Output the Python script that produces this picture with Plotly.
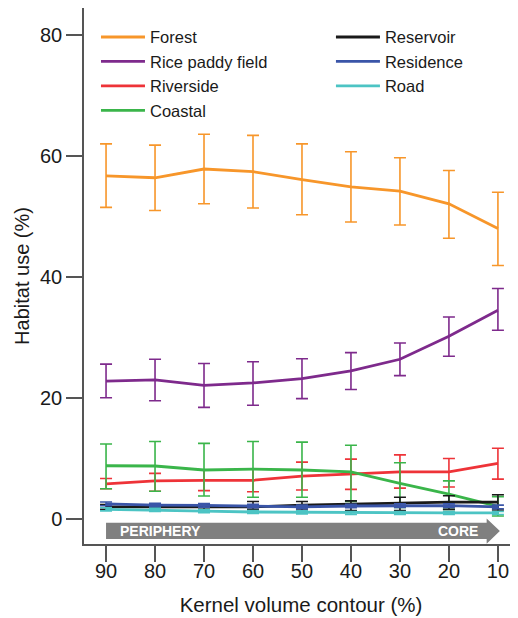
import plotly.graph_objects as go

contour = [90, 80, 70, 60, 50, 40, 30, 20, 10]
tick_labels = ["90", "80", "70", "60", "50", "40", "30", "20", "10"]

forest = [56.7, 56.4, 57.85, 57.4, 56.1, 54.9, 54.2, 52.1, 48.0]
forest_hi = [62.0, 61.8, 63.6, 63.4, 62.0, 60.7, 59.7, 57.6, 54.0]
forest_lo = [51.5, 51.0, 52.1, 51.4, 50.3, 49.1, 48.6, 46.4, 41.9]

rice = [22.8, 23.0, 22.1, 22.5, 23.2, 24.5, 26.4, 30.2, 34.5]
rice_hi = [25.6, 26.4, 25.7, 26.0, 26.5, 27.5, 29.1, 33.4, 38.1]
rice_lo = [20.05, 19.55, 18.45, 18.8, 19.9, 21.4, 23.7, 26.9, 31.2]

riverside = [5.8, 6.3, 6.4, 6.4, 7.1, 7.4, 7.8, 7.8, 9.2]
riverside_hi = [6.7, 7.55, 8.1, 8.3, 9.4, 9.9, 10.6, 10.0, 11.7]
riverside_lo = [5.0, 4.6, 4.7, 4.5, 4.8, 4.9, 5.1, 5.3, 6.6]

coastal = [8.8, 8.76, 8.1, 8.26, 8.1, 7.8, 5.9, 4.1, 2.1]
coastal_hi = [12.4, 12.8, 12.5, 12.8, 12.7, 12.2, 9.3, 6.3, 3.7]
coastal_lo = [5.0, 4.6, 3.8, 3.6, 3.6, 2.9, 1.9, 1.6, 0.5]

reservoir = [2.0, 2.0, 2.0, 2.0, 2.3, 2.5, 2.7, 2.8, 2.8]
reservoir_hi = [2.4, 2.4, 2.4, 2.9, 2.9, 3.0, 3.6, 3.85, 4.0]
reservoir_lo = [1.6, 1.6, 1.6, 1.6, 1.5, 1.4, 1.4, 1.6, 1.5]

residence = [2.5, 2.3, 2.26, 2.15, 2.0, 2.15, 2.2, 2.2, 2.0]
residence_hi = [2.8, 2.6, 2.56, 2.45, 2.3, 2.45, 2.5, 2.5, 2.3]
residence_lo = [2.2, 2.0, 1.96, 1.85, 1.7, 1.85, 1.9, 1.9, 1.7]

road = [1.6, 1.5, 1.3, 1.16, 1.1, 1.0, 1.0, 1.0, 1.0]
road_hi = [1.85, 1.75, 1.55, 1.4, 1.35, 1.25, 1.25, 1.25, 1.25]
road_lo = [1.35, 1.25, 1.05, 0.9, 0.85, 0.75, 0.75, 0.75, 0.75]

series = [
    ("Forest", forest, forest_hi, forest_lo, "#F7962A", "legend", 1),
    ("Rice paddy field", rice, rice_hi, rice_lo, "#7E2A8C", "legend", 2),
    ("Riverside", riverside, riverside_hi, riverside_lo, "#EE3338", "legend", 3),
    ("Coastal", coastal, coastal_hi, coastal_lo, "#3AB54A", "legend", 4),
    ("Reservoir", reservoir, reservoir_hi, reservoir_lo, "#1A1A1A", "legend2", 5),
    ("Residence", residence, residence_hi, residence_lo, "#3A55A8", "legend2", 6),
    ("Road", road, road_hi, road_lo, "#4CC4C4", "legend2", 7),
]

FONT = "Liberation Sans, Arial, sans-serif"
AXIS_COL = "#555555"

fig = go.Figure()
for name, m, hi, lo, col, leg, rank in series:
    fig.add_trace(go.Scatter(
        x=contour, y=m, name=name, mode="lines",
        line=dict(color=col, width=2.8),
        error_y=dict(type="data", symmetric=False,
                     array=[h - v for h, v in zip(hi, m)],
                     arrayminus=[v - l for l, v in zip(lo, m)],
                     color=col, thickness=1.6, width=6),
        legend=leg, legendrank=rank,
    ))

# Periphery -> core arrow
x0, x1 = contour[0], contour[-1]
body_end = x1 + 2.3
tip = x1 - 0.4
fig.add_shape(type="path", xref="x", yref="y",
              path=(f"M {x0},-0.6 L {body_end},-0.6 L {body_end},0.1 L {tip},-2.0 "
                    f"L {body_end},-4.1 L {body_end},-3.3 L {x0},-3.3 Z"),
              fillcolor="#808080", line=dict(width=0), layer="above")
fig.add_annotation(x=x0 - 2.45, y=-1.95, xref="x", yref="y", text="<b>PERIPHERY</b>",
                   showarrow=False, xanchor="left", yanchor="middle",
                   font=dict(family=FONT, size=14, color="white"))
fig.add_annotation(x=x1 + 3.67, y=-1.95, xref="x", yref="y", text="<b>CORE</b>",
                   showarrow=False, xanchor="right", yanchor="middle",
                   font=dict(family=FONT, size=14, color="white"))

fig.update_layout(
    width=510, height=610,
    margin=dict(l=76, r=0, t=0, b=74, autoexpand=False),
    paper_bgcolor="white", plot_bgcolor="white",
    font=dict(family=FONT, color="#1a1a1a"),
    showlegend=True,
    legend=dict(x=0.0276, y=0.978, xanchor="left", yanchor="top",
                bgcolor="rgba(0,0,0,0)", font=dict(family=FONT, size=16.5, color="#1a1a1a"),
                itemwidth=44),
    legend2=dict(x=0.569, y=0.978, xanchor="left", yanchor="top",
                 bgcolor="rgba(0,0,0,0)", font=dict(family=FONT, size=16.5, color="#1a1a1a"),
                 itemwidth=44),
)
fig.update_xaxes(
    range=[94.5, 5.9], tickmode="array", tickvals=contour, ticktext=tick_labels,
    showgrid=False, zeroline=False, automargin=False,
    showline=True, linecolor=AXIS_COL, linewidth=1.5, mirror=True,
    ticks="outside", ticklen=16, tickwidth=1.5, tickcolor=AXIS_COL,
    ticklabelstandoff=-8,
    tickfont=dict(family=FONT, size=20, color="#1a1a1a"),
    title=dict(text="Kernel volume contour (%)", standoff=17,
               font=dict(family=FONT, size=20.5, color="#1a1a1a")),
)
fig.update_yaxes(
    range=[-4.13, 84.46], tickvals=[0, 20, 40, 60, 80],
    showgrid=False, zeroline=False, automargin=False,
    showline=True, linecolor=AXIS_COL, linewidth=1.5,
    ticks="outside", ticklen=16, tickwidth=1.5, tickcolor=AXIS_COL,
    tickfont=dict(family=FONT, size=20, color="#1a1a1a"),
    title=dict(text="Habitat use (%)", standoff=5,
               font=dict(family=FONT, size=20, color="#1a1a1a")),
)

fig.write_html("out.html")
